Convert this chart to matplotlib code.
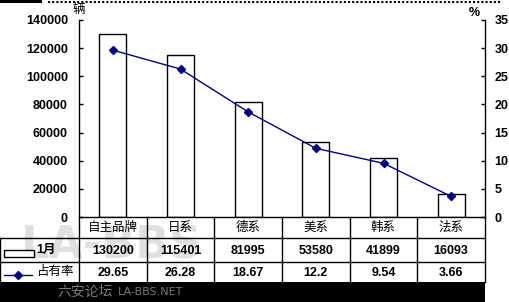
import matplotlib
matplotlib.use("Agg")
import matplotlib.pyplot as plt
from matplotlib.patches import Rectangle
from matplotlib.lines import Line2D

categories = ["自主品牌", "日系", "德系", "美系", "韩系", "法系"]
sales = [130200, 115401, 81995, 53580, 41899, 16093]
share = [29.65, 26.28, 18.67, 12.2, 9.54, 3.66]
share_labels = ["29.65", "26.28", "18.67", "12.2", "9.54", "3.66"]
series_sales = "1月"
series_share = "占有率"
left_ticks = list(range(0, 140001, 20000))
right_ticks = list(range(0, 36, 5))

W, H = 510, 302
fig = plt.figure(figsize=(W / 100, H / 100), dpi=100)
fig.patch.set_facecolor("white")

# plot area in pixels
L, R, T, B = 79, 485, 20, 217
ax = fig.add_axes([L / W, 1 - B / H, (R - L) / W, (B - T) / H])
n = len(categories)
xs = list(range(n))
ax.bar(xs, sales, width=0.4, facecolor="white", edgecolor="black", linewidth=1.0, zorder=2)
ax.set_xlim(-0.5, n - 0.5)
ax.set_ylim(0, 140000)
ax.set_yticks(left_ticks)
ax.set_yticklabels([str(v) for v in left_ticks], fontfamily="Liberation Sans",
                   fontweight="bold", fontsize=9)
ax.tick_params(axis="y", direction="in", length=3, width=1, pad=8)
ax.set_xticks([])
ax.spines["top"].set_visible(False)
ax.spines["right"].set_visible(False)
ax.spines["left"].set_linewidth(1)
ax.spines["bottom"].set_linewidth(1)

ax2 = ax.twinx()
ax2.plot(xs, share, color="#000080", linewidth=1.0, marker="D", markersize=4.5,
         markerfacecolor="#000080", markeredgecolor="#000080", zorder=3)
ax2.set_ylim(0, 35)
ax2.set_yticks(right_ticks)
ax2.set_yticklabels([str(v) for v in right_ticks], fontfamily="Liberation Sans",
                    fontweight="bold", fontsize=9)
ax2.tick_params(axis="y", direction="in", length=3, width=1, pad=7)
ax2.spines["top"].set_visible(False)
ax2.spines["left"].set_visible(False)
ax2.spines["bottom"].set_visible(False)
ax2.spines["right"].set_linewidth(1)
ax2.set_xlim(-0.5, n - 0.5)

# overlay in pixel coordinates
ov = fig.add_axes([0, 0, 1, 1], zorder=10)
ov.set_xlim(0, W)
ov.set_ylim(H, 0)
ov.axis("off")
ov.patch.set_alpha(0)

cjk = ["Noto Sans CJK SC", "DejaVu Sans"]
ov.text(79, 10, "辆", fontsize=9, family=cjk, ha="center", va="center")
ov.text(474, 13, "%", fontsize=9, fontfamily="Liberation Sans", fontweight="bold",
        ha="center", va="center")

# table
r1, r2, r3 = 238, 262, 282
colw = (R - L) / n
lk = dict(color="black", linewidth=1.0)
for i in range(n + 1):
    x = L + i * colw
    ov.add_line(Line2D([x, x], [B, r3], **lk))
ov.add_line(Line2D([0, R], [r1, r1], **lk))
ov.add_line(Line2D([0, R], [r2, r2], **lk))
ov.add_line(Line2D([0, 0], [r1, r3], **lk))

# watermark (behind table text)
ov.text(112, 246, "LA-BBS", fontsize=32, fontfamily="DejaVu Sans", fontweight="bold",
        color="#999999", alpha=0.3, ha="center", va="center", zorder=0)

for i, c in enumerate(categories):
    cx = L + (i + 0.5) * colw
    ov.text(cx, (B + r1) / 2, c, fontsize=9, family=cjk, ha="center", va="center")
    ov.text(cx, (r1 + r2) / 2 + 1, str(sales[i]), fontsize=9, fontfamily="Liberation Sans",
            fontweight="bold", ha="center", va="center")
    ov.text(cx, (r2 + r3) / 2 + 1, share_labels[i], fontsize=9, fontfamily="Liberation Sans",
            fontweight="bold", ha="center", va="center")

# legend keys
ov.add_patch(Rectangle((4, 250), 30, 7, facecolor="white", edgecolor="black", linewidth=1))
ov.text(36, 250, series_sales, fontsize=9, family=["Liberation Sans", "Noto Sans CJK SC"],
        fontweight="bold", ha="left", va="center")
ov.add_line(Line2D([4, 32], [275, 275], color="#000080", linewidth=1))
ov.add_line(Line2D([18], [275], color="#000080", marker="D", markersize=4.5, linestyle="none"))
ov.text(36, 272, series_share, fontsize=9, family=cjk, ha="left", va="center")

# black band and top strip
ov.add_patch(Rectangle((0, 282), R, 20, facecolor="black", edgecolor="none"))
ov.text(57, 292, "六安论坛", fontsize=10, family=cjk, color="#7a7a7a", ha="left", va="center")
ov.text(118, 292, "LA-BBS.NET", fontsize=8, fontfamily="DejaVu Sans", color="#7a7a7a",
        ha="left", va="center")
ov.add_patch(Rectangle((0, 0), 42, 3, facecolor="black", edgecolor="none"))
ov.add_line(Line2D([48, 500], [1.5, 1.5], color="black", linewidth=1.5, linestyle=(0, (1, 1))))

fig.savefig("out.png", dpi=100, facecolor="white")
